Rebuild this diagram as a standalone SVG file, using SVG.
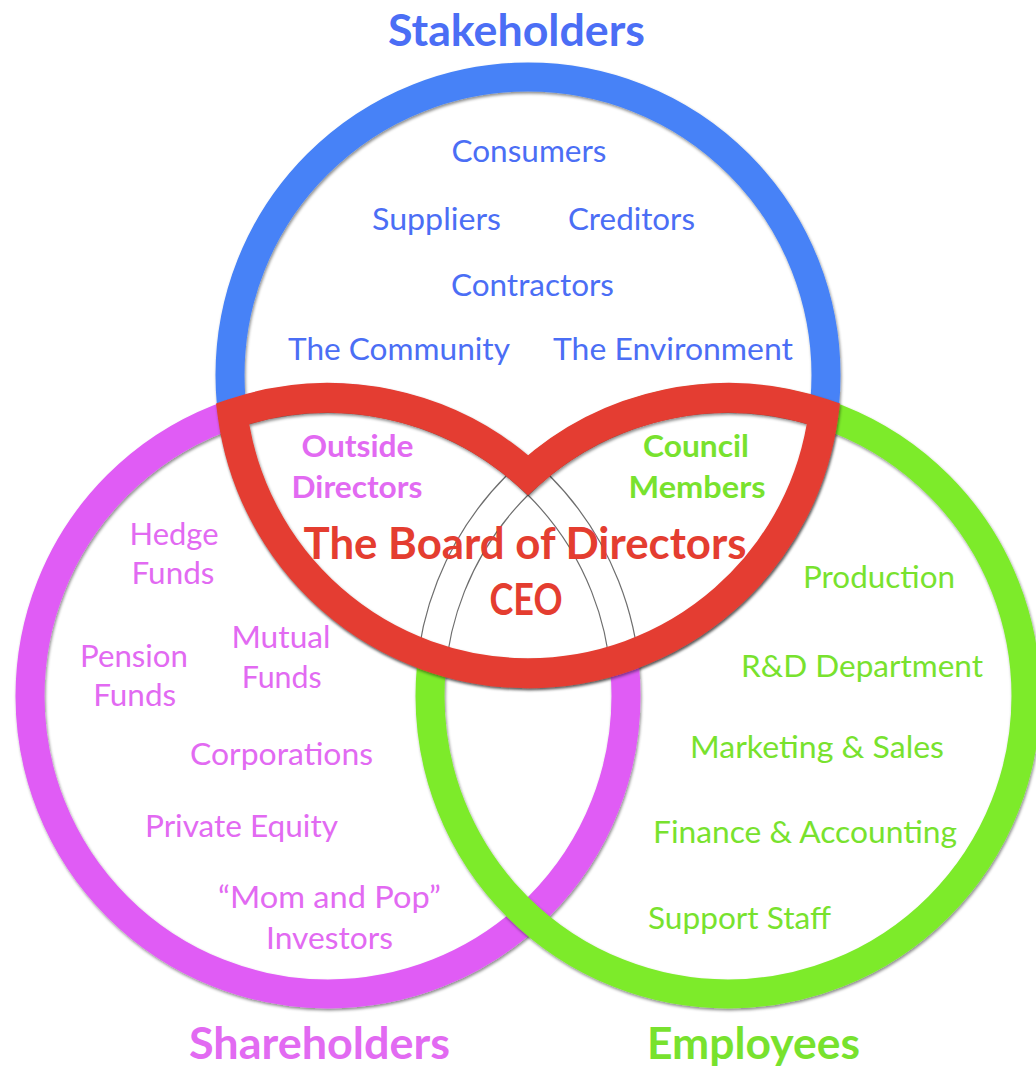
<svg xmlns="http://www.w3.org/2000/svg" width="1036" height="1070" viewBox="0 0 1036 1070">
<style>
text{font-family:Lato,"Open Sans","Liberation Sans",sans-serif;text-anchor:middle}
.ring{fill:none;stroke-width:29}
.t{font-size:30px}
.tb{font-size:31px;font-weight:bold}
.title{font-size:43px;font-weight:bold}
.blue{fill:#4B6EF5}
.mag{fill:#E26AF2}
.grn{fill:#78E22E}
.red{fill:#E43D30}
.arch{fill:none;stroke:#555;stroke-width:1.2;stroke-opacity:0.85}
</style>
<defs>
<filter id="sh" x="-10%" y="-10%" width="120%" height="120%">
<feDropShadow dx="1" dy="2" stdDeviation="1.5" flood-color="#000" flood-opacity="0.45"/>
</filter>
<clipPath id="region">
<path d="M 232.5 413.7 A 298 298 0 0 1 528 475.1 A 298 298 0 0 1 823.5 413.7 A 298 298 0 0 1 232.5 413.7 Z"/>
</clipPath>
</defs>
<rect width="1036" height="1070" fill="#fff"/>
<g id="stakeholders-ring"><circle class="ring" cx="528" cy="375" r="298" stroke="#4682F7" filter="url(#sh)"/></g>
<g id="shareholders-ring"><circle class="ring" cx="328" cy="696" r="298" stroke="#E05CF5" filter="url(#sh)"/></g>
<g id="employees-ring"><circle class="ring" cx="728" cy="696" r="298" stroke="#7DEB2C" filter="url(#sh)"/></g>
<g id="board">
<path d="M 232.5 413.7 A 298 298 0 0 1 528 475.1 A 298 298 0 0 1 823.5 413.7 A 298 298 0 0 1 232.5 413.7 Z" fill="#fff"/>
<g clip-path="url(#region)">
<circle class="arch" cx="328" cy="696" r="312.5"/>
<circle class="arch" cx="328" cy="696" r="283.5"/>
<circle class="arch" cx="728" cy="696" r="312.5"/>
<circle class="arch" cx="728" cy="696" r="283.5"/>
</g>
<path d="M 232.5 413.7 A 298 298 0 0 1 528 475.1 A 298 298 0 0 1 823.5 413.7 A 298 298 0 0 1 232.5 413.7 Z" fill="none" stroke="#E43D30" stroke-width="30" stroke-linejoin="miter" filter="url(#sh)"/>
<text class="title red" x="525" y="559" textLength="443" lengthAdjust="spacingAndGlyphs">The Board of Directors</text>
<text class="title red" x="526" y="615" textLength="73" lengthAdjust="spacingAndGlyphs">CEO</text>
</g>
<g id="stakeholders">
<text class="title blue" x="516.5" y="46" textLength="257" lengthAdjust="spacingAndGlyphs">Stakeholders</text>
<text class="t blue" x="529" y="162" textLength="155" lengthAdjust="spacingAndGlyphs">Consumers</text>
<text class="t blue" x="436.5" y="230" textLength="129" lengthAdjust="spacingAndGlyphs">Suppliers</text>
<text class="t blue" x="631.5" y="230" textLength="127" lengthAdjust="spacingAndGlyphs">Creditors</text>
<text class="t blue" x="532.5" y="296" textLength="163" lengthAdjust="spacingAndGlyphs">Contractors</text>
<text class="t blue" x="399" y="360" textLength="222" lengthAdjust="spacingAndGlyphs">The Community</text>
<text class="t blue" x="673" y="360" textLength="240" lengthAdjust="spacingAndGlyphs">The Environment</text>
</g>
<g id="shareholders">
<text class="title mag" x="319.5" y="1059" textLength="261" lengthAdjust="spacingAndGlyphs">Shareholders</text>
<text class="tb mag" x="357.5" y="457" textLength="112" lengthAdjust="spacingAndGlyphs">Outside</text>
<text class="tb mag" x="357" y="498" textLength="131" lengthAdjust="spacingAndGlyphs">Directors</text>
<text class="t mag" x="174" y="545" textLength="89" lengthAdjust="spacingAndGlyphs">Hedge</text>
<text class="t mag" x="173" y="584" textLength="83" lengthAdjust="spacingAndGlyphs">Funds</text>
<text class="t mag" x="134" y="667" textLength="108" lengthAdjust="spacingAndGlyphs">Pension</text>
<text class="t mag" x="134.7" y="706" textLength="83" lengthAdjust="spacingAndGlyphs">Funds</text>
<text class="t mag" x="281" y="648" textLength="99" lengthAdjust="spacingAndGlyphs">Mutual</text>
<text class="t mag" x="281.7" y="688" textLength="80" lengthAdjust="spacingAndGlyphs">Funds</text>
<text class="t mag" x="281.5" y="765" textLength="183" lengthAdjust="spacingAndGlyphs">Corporations</text>
<text class="t mag" x="241.5" y="837" textLength="193" lengthAdjust="spacingAndGlyphs">Private Equity</text>
<text class="t mag" x="329.5" y="908" textLength="223" lengthAdjust="spacingAndGlyphs">“Mom and Pop”</text>
<text class="t mag" x="329.5" y="949" textLength="127" lengthAdjust="spacingAndGlyphs">Investors</text>
</g>
<g id="employees">
<text class="title grn" x="753.5" y="1059" textLength="213" lengthAdjust="spacingAndGlyphs">Employees</text>
<text class="tb grn" x="696" y="457" textLength="106" lengthAdjust="spacingAndGlyphs">Council</text>
<text class="tb grn" x="697" y="498" textLength="137" lengthAdjust="spacingAndGlyphs">Members</text>
<text class="t grn" x="879" y="588" textLength="152" lengthAdjust="spacingAndGlyphs">Production</text>
<text class="t grn" x="862" y="677" textLength="242" lengthAdjust="spacingAndGlyphs">R&amp;D Department</text>
<text class="t grn" x="817" y="758" textLength="254" lengthAdjust="spacingAndGlyphs">Marketing &amp; Sales</text>
<text class="t grn" x="805" y="843" textLength="304" lengthAdjust="spacingAndGlyphs">Finance &amp; Accounting</text>
<text class="t grn" x="739.5" y="929" textLength="183" lengthAdjust="spacingAndGlyphs">Support Staff</text>
</g>
</svg>
